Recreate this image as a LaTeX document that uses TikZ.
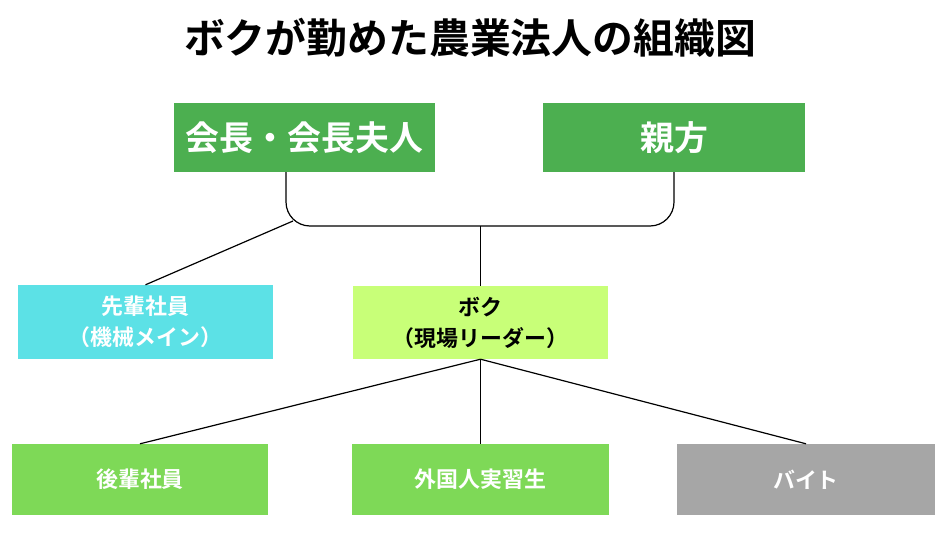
\documentclass[tikz,border=0pt]{standalone}
\usepackage{fontspec}
\setmainfont{Noto Sans CJK JP}[BoldFont={Noto Sans CJK JP Bold}]
\definecolor{darkgreen}{RGB}{76,175,80}
\definecolor{cyanbox}{RGB}{92,225,230}
\definecolor{limebox}{RGB}{200,255,120}
\definecolor{midgreen}{RGB}{126,217,87}
\definecolor{greybox}{RGB}{166,166,166}
\begin{document}
\begin{tikzpicture}[x=1bp,y=-1bp,
    orgbox/.style={rectangle, inner sep=0pt, text=white, font=\bfseries, align=center},
    bigtext/.style={font=\fontsize{34}{40}\selectfont\bfseries},
    smalltext/.style={font=\fontsize{22}{31}\selectfont\bfseries},
    link/.style={line width=1.2bp, black}]
    \useasboundingbox (0,0) rectangle (947,539);
    \node (title) at (470,38) {\fontsize{41}{48}\selectfont\bfseries ボクが勤めた農業法人の組織図};
    % top row
    \node[orgbox, bigtext, fill=darkgreen, minimum width=261bp, minimum height=69bp] (kaicho) at (304.5,137.5) {会長・会長夫人};
    \node[orgbox, bigtext, fill=darkgreen, minimum width=262bp, minimum height=69bp] (oyakata) at (674,137.5) {親方};
    % middle row
    \node[orgbox, smalltext, fill=cyanbox, minimum width=255bp, minimum height=74bp] (senpai) at (145.5,322) {先輩社員\\（機械メイン）};
    \node[orgbox, smalltext, fill=limebox, text=black, minimum width=255bp, minimum height=73bp] (boku) at (480.5,322.5) {ボク\\（現場リーダー）};
    % bottom row
    \node[orgbox, smalltext, fill=midgreen, minimum width=256bp, minimum height=71bp] (kohai) at (140,479.5) {後輩社員};
    \node[orgbox, smalltext, fill=midgreen, minimum width=257bp, minimum height=71bp] (gaikoku) at (480.5,479.5) {外国人実習生};
    \node[orgbox, smalltext, fill=greybox, minimum width=258bp, minimum height=71bp] (baito) at (806,479.5) {バイト};
    % connectors
    \coordinate (junction) at (480.5,226);
    \coordinate (branch) at (293,221);
    \draw[link, rounded corners=24bp] ([xshift=-18.5bp]kaicho.south) |- (junction) -| (oyakata.south);
    \draw[link] (branch) -- (senpai.north);
    \draw[link] (junction) -- (boku.north);
    \draw[link] (boku.south) -- (kohai.north);
    \draw[link] (boku.south) -- (gaikoku.north);
    \draw[link] (boku.south) -- (baito.north);
\end{tikzpicture}
\end{document}
